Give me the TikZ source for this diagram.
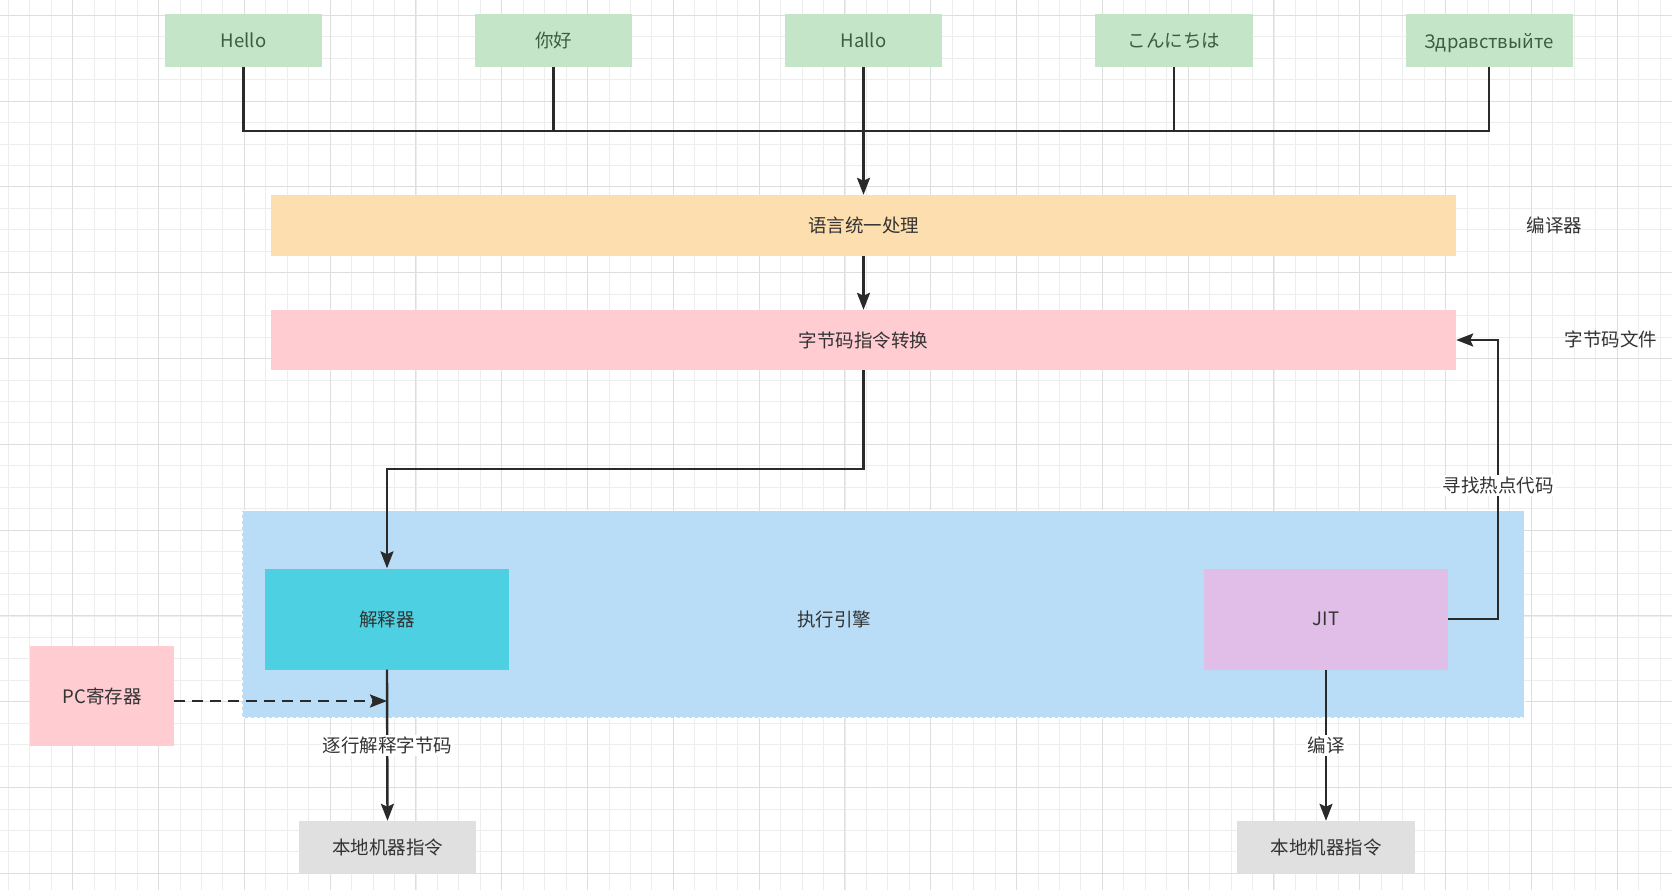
\documentclass[tikz,border=0pt]{standalone}
\usepackage{fontspec}
\setmainfont{Noto Sans CJK SC}
\usetikzlibrary{arrows.meta}
\definecolor{gridminor}{HTML}{EDEDED}
\definecolor{gridmajor}{HTML}{DEDEDE}
\definecolor{cgreen}{HTML}{C4E5C7}
\definecolor{corange}{HTML}{FDDEAE}
\definecolor{cpink}{HTML}{FFCCD2}
\definecolor{cblue}{HTML}{B9DDF7}
\definecolor{ccyan}{HTML}{4DD0E1}
\definecolor{cpurple}{HTML}{E1BEE7}
\definecolor{cgray}{HTML}{E0E0E0}
\definecolor{cline}{HTML}{2A2A2A}
\definecolor{ctext}{HTML}{333333}
\definecolor{cgtext}{HTML}{3D5C40}
\newcommand{\dfont}{\fontsize{18.5}{22}\selectfont}
\begin{document}
\begin{tikzpicture}[x=1pt,y=-1pt,
  box/.style={rectangle, inner sep=0pt, draw=none, text=ctext, font=\dfont},
  greenbox/.style={box, fill=cgreen, text=cgtext, minimum width=157pt, minimum height=53pt},
  conn/.style={draw=cline, line width=2.4pt},
  arr/.style={conn, -{Stealth[length=17pt, width=13pt, inset=3pt]}},
  lbl/.style={fill=white, inner sep=2pt, text=ctext, font=\dfont},
  plain/.style={inner sep=0pt, text=ctext, font=\dfont}
]
% background and grid
\fill[white] (0,0) rectangle (1672,890);
\useasboundingbox (0,0) rectangle (1672,890);
\foreach \i in {0,...,77} {
  \pgfmathsetmacro\gx{8.35+21.45*\i}
  \draw[gridminor, line width=0.8pt] (\gx,0) -- (\gx,890);
}
\foreach \i in {0,...,41} {
  \pgfmathsetmacro\gy{15.3+21.45*\i}
  \draw[gridminor, line width=0.8pt] (0,\gy) -- (1672,\gy);
}
\foreach \i in {0,...,18} {
  \pgfmathsetmacro\gx{72.7+85.8*\i}
  \draw[gridmajor, line width=0.9pt] (\gx,0) -- (\gx,890);
}
\foreach \i in {0,...,10} {
  \pgfmathsetmacro\gy{15.3+85.8*\i}
  \draw[gridmajor, line width=0.9pt] (0,\gy) -- (1672,\gy);
}

% container
\node[box, fill=cblue, draw=white, dashed, line width=0.8pt, minimum width=1282pt, minimum height=207pt] (engine) at (883,614) {};
\node[plain] (enginelbl) at (834,619.5) {执行引擎};

% top language nodes
\node[greenbox] (hello) at (243.5,40.5) {Hello};
\node[greenbox] (nihao) at (553.5,40.5) {你好};
\node[greenbox] (hallo) at (863.5,40.5) {Hallo};
\node[greenbox, minimum width=158pt] (konn) at (1174,40.5) {こんにちは};
\node[greenbox, minimum width=167pt] (zdr) at (1489,40.5) {\raisebox{0pt}[\height][0pt]{Здравствыйте}};

% bars
\node[box, fill=corange, minimum width=1185pt, minimum height=61pt] (lang) at (863.5,225.5) {语言统一处理};
\node[box, fill=cpink, minimum width=1185pt, minimum height=60pt] (byte) at (863.5,340) {字节码指令转换};
\node[plain] (compl) at (1554.7,225) {编译器};
\node[plain] (bytefile) at (1611,339) {字节码文件};

% engine parts
\node[box, fill=ccyan, minimum width=244pt, minimum height=101pt] (interp) at (387,619) {解释器};
\node[box, fill=cpurple, minimum width=244pt, minimum height=101pt] (jit) at (1326,619) {JIT};
\node[box, fill=cpink, minimum width=144pt, minimum height=100pt] (pc) at (102,696) {PC寄存器};
\node[box, fill=cgray, minimum width=177pt, minimum height=52pt] (nat1) at (387.5,847) {本地机器指令};
\node[box, fill=cgray, minimum width=178pt, minimum height=52pt] (nat2) at (1326,847) {本地机器指令};

% helper coordinates
\coordinate (bus) at (0,131);
\coordinate (turn) at (0,469);
\coordinate (loop) at (1498,0);

% connectors
\draw[conn] (hello.south) -- (hello.south |- bus) -- (zdr.south |- bus) -- (zdr.south);
\draw[conn] (nihao.south) -- (nihao.south |- bus);
\draw[conn] (konn.south) -- (konn.south |- bus);
\draw[arr] (hallo.south) -- (lang.north);
\draw[arr] (lang.south) -- (byte.north);
\draw[arr] (byte.south) -- (byte.south |- turn) -- (interp.north |- turn) -- (interp.north);
\draw[arr] (interp.south) -- node[lbl] {逐行解释字节码} (nat1.north);
\draw[arr] (jit.south) -- node[lbl] {编译} (nat2.north);
\draw[arr] (jit.east) -- (jit.east -| loop) -- node[lbl, pos=0.48] {寻找热点代码} (loop |- byte.east) -- (byte.east);
\draw[arr, dash pattern=on 11pt off 7pt] ([yshift=-5pt]pc.east) -- ([yshift=-5pt]pc.east -| interp.south);
\end{tikzpicture}
\end{document}
